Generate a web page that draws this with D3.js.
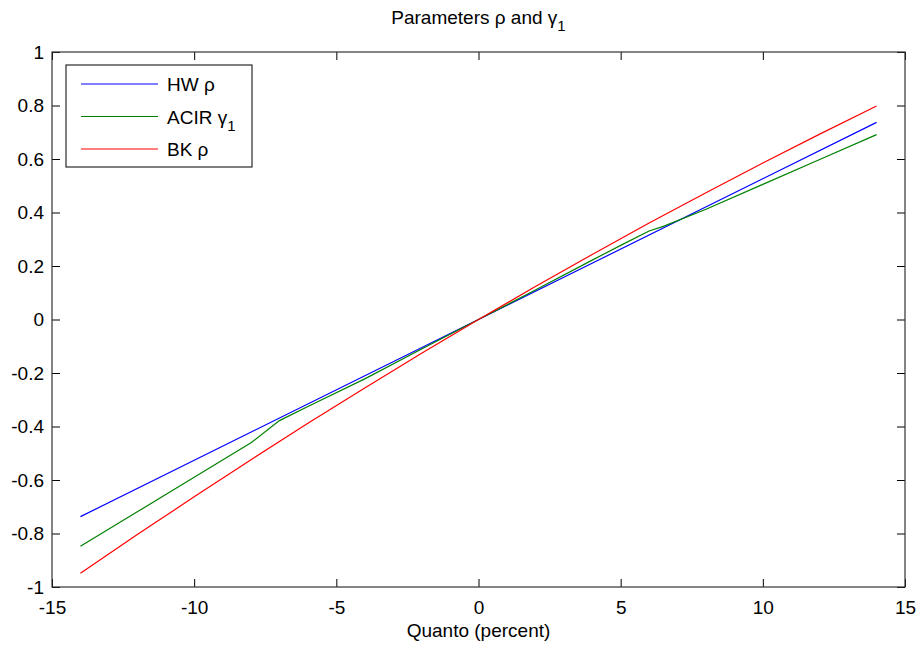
<!DOCTYPE html>
<html>
<head>
<meta charset="utf-8">
<script src="https://cdn.jsdelivr.net/npm/d3@7"></script>
<style>
  body { margin: 0; background: #fff; }
  svg text { font-family: "Liberation Sans", Arial, Helvetica, sans-serif; fill: #000; }
</style>
</head>
<body>
<div id="chart"></div>
<script>
// values
var hwX = [-14, 0, 14];
var hwY = [-0.737, 0, 0.737];

var acirX = [-14, -12, -10, -8, -7, -6, -4, -2, 0, 2, 4, 5, 6, 6.5, 8, 10, 12, 14];
var acirY = [-0.848, -0.719, -0.590, -0.461, -0.378, -0.325, -0.222, -0.110, 0, 0.110, 0.222, 0.277, 0.331, 0.348, 0.412, 0.505, 0.598, 0.691];

var bkX = [-14, -12, -10, -8, -6, -4, -2, 0, 2, 4, 6, 8, 10, 12, 14];
var bkY = [-0.949, -0.804, -0.663, -0.524, -0.388, -0.256, -0.126, 0, 0.123, 0.243, 0.361, 0.474, 0.585, 0.693, 0.798];

var xTicks = [-15, -10, -5, 0, 5, 10, 15];
var yTicks = [-1, -0.8, -0.6, -0.4, -0.2, 0, 0.2, 0.4, 0.6, 0.8, 1];

var series = [
  { name: "HW", sym: "ρ", sub: "", color: "#0000ff", xs: hwX, ys: hwY },
  { name: "ACIR", sym: "γ", sub: "1", color: "#008000", xs: acirX, ys: acirY },
  { name: "BK", sym: "ρ", sub: "", color: "#ff0000", xs: bkX, ys: bkY }
];

var fontSize = "19px";
var subSize = "15px";

var svgWidth = 920, svgHeight = 653;
var margin = { top: 52, right: 15, bottom: 66, left: 52 };
var width = svgWidth - margin.left - margin.right;
var height = svgHeight - margin.top - margin.bottom;

var svg = d3.select("#chart").append("svg")
  .attr("width", svgWidth)
  .attr("height", svgHeight);

var g = svg.append("g")
  .attr("transform", `translate(${margin.left}, ${margin.top})`);

var x = d3.scaleLinear().domain([-15, 15]).range([0, width]);
var y = d3.scaleLinear().domain([-1, 1]).range([height, 0]);

// plain hyphen for negatives, like the original
var fmt = d => String(d);

// axes: ticks pointing inwards, mirrored on top and right
function styleAxis(sel) {
  sel.select(".domain").remove();
  sel.selectAll("line").attr("stroke", "#000");
  sel.selectAll("text").style("font-size", fontSize);
}

g.append("g")
  .attr("transform", `translate(0, ${height})`)
  .call(d3.axisBottom(x).tickValues(xTicks).tickSize(-8).tickPadding(14).tickFormat(fmt))
  .call(styleAxis);

g.append("g")
  .call(d3.axisTop(x).tickValues(xTicks).tickSize(-8).tickFormat(""))
  .call(styleAxis);

g.append("g")
  .call(d3.axisLeft(y).tickValues(yTicks).tickSize(-8).tickPadding(8).tickFormat(fmt))
  .call(styleAxis);

g.append("g")
  .attr("transform", `translate(${width}, 0)`)
  .call(d3.axisRight(y).tickValues(yTicks).tickSize(-8).tickFormat(""))
  .call(styleAxis);

// box
g.append("rect")
  .attr("width", width)
  .attr("height", height)
  .attr("fill", "none")
  .attr("stroke", "#333")
  .attr("stroke-width", 1.2);

// lines
var line = d3.line()
  .x(d => x(d[0]))
  .y(d => y(d[1]));

series.forEach(function(s) {
  var pts = s.xs.map((v, i) => [v, s.ys[i]]);
  g.append("path")
    .datum(pts)
    .attr("fill", "none")
    .attr("stroke", s.color)
    .attr("stroke-width", 1.2)
    .attr("d", line);
});

// legend
var legend = svg.append("g").attr("transform", "translate(66, 65)");
legend.append("rect")
  .attr("width", 186)
  .attr("height", 102)
  .attr("fill", "#fff")
  .attr("stroke", "#000")
  .attr("stroke-width", 1);

series.forEach(function(s, i) {
  var ly = 19 + i * 32.5;
  legend.append("line")
    .attr("x1", 15).attr("x2", 92)
    .attr("y1", ly).attr("y2", ly)
    .attr("stroke", s.color)
    .attr("stroke-width", 1.2);
  var t = legend.append("text")
    .attr("x", 101)
    .attr("y", ly + 7)
    .style("font-size", fontSize);
  t.append("tspan").text(s.name + " " + s.sym);
  if (s.sub) {
    t.append("tspan").attr("dy", 7).style("font-size", subSize).text(s.sub);
  }
});

// title
var title = svg.append("text")
  .attr("x", margin.left + width / 2)
  .attr("y", 24)
  .attr("text-anchor", "middle")
  .style("font-size", fontSize);
title.append("tspan").text("Parameters ρ and γ");
title.append("tspan").attr("dy", 7).style("font-size", subSize).text("1");

// x label
svg.append("text")
  .attr("x", margin.left + width / 2)
  .attr("y", 637)
  .attr("text-anchor", "middle")
  .style("font-size", fontSize)
  .text("Quanto (percent)");
</script>
</body>
</html>
